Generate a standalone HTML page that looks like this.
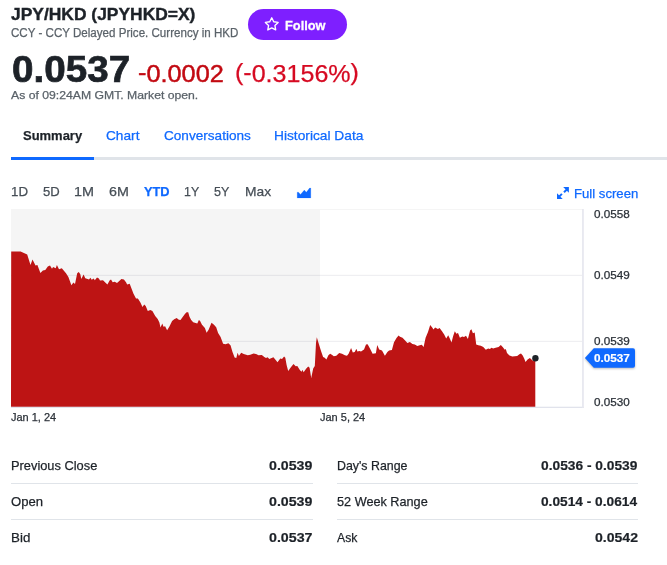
<!DOCTYPE html>
<html lang="en">
<head>
<meta charset="utf-8">
<title>JPY/HKD (JPYHKD=X)</title>
<style>
html,body{margin:0;padding:0;background:#fff;}
body{width:667px;height:565px;position:relative;overflow:hidden;font-family:"Liberation Sans", Arial, sans-serif;}
.t{position:absolute;white-space:nowrap;line-height:1;margin:0;padding:0;transform-origin:0 0;}
.abs{position:absolute;}
.up{position:relative;top:-1.4px;}
#title{left:11.24px;top:6.26px;font-size:17.3px;font-weight:700;color:#1d2228;transform:scaleX(1.0081);-webkit-text-stroke:0.4px #1d2228;}
#sub{left:10.54px;top:27.01px;font-size:12.0px;font-weight:400;color:#5b636a;transform:scaleX(0.9650);-webkit-text-stroke:0.25px #5b636a;}
#follow{left:284.79px;top:19.21px;font-size:13.1px;font-weight:700;color:#ffffff;transform:scaleX(0.9776);-webkit-text-stroke:0.3px #ffffff;}
#price{left:11.55px;top:51.76px;font-size:36.3px;font-weight:700;color:#1d2228;transform:scaleX(1.0644);-webkit-text-stroke:0.7px #1d2228;}
#chg{left:138.32px;top:61.61px;font-size:24.1px;font-weight:400;color:#c20a12;transform:scaleX(1.0500);-webkit-text-stroke:0.45px #c20a12;}
#pct{left:234.88px;top:61.61px;font-size:24.1px;font-weight:400;color:#d60a22;transform:scaleX(1.0398);-webkit-text-stroke:0.25px #d60a22;}
#asof{left:11.42px;top:89.60px;font-size:11.3px;font-weight:400;color:#5b636a;transform:scaleX(1.0806);-webkit-text-stroke:0.25px #5b636a;}
#tab1{left:22.76px;top:129.01px;font-size:13.6px;font-weight:700;color:#1d2228;transform:scaleX(0.9538);-webkit-text-stroke:0.25px #1d2228;}
#tab2{left:106.15px;top:129.01px;font-size:13.6px;font-weight:400;color:#0f69ff;transform:scaleX(1.0058);-webkit-text-stroke:0.25px #0f69ff;}
#tab3{left:163.74px;top:129.01px;font-size:13.6px;font-weight:400;color:#0f69ff;transform:scaleX(0.9991);-webkit-text-stroke:0.25px #0f69ff;}
#tab4{left:274.10px;top:129.01px;font-size:13.6px;font-weight:400;color:#0f69ff;transform:scaleX(1.0111);-webkit-text-stroke:0.25px #0f69ff;}
#r1{left:11.11px;top:185.10px;font-size:13.4px;font-weight:400;color:#464e56;transform:scaleX(0.9928);-webkit-text-stroke:0.25px #464e56;}
#r2{left:42.81px;top:185.10px;font-size:13.4px;font-weight:400;color:#464e56;transform:scaleX(0.9755);-webkit-text-stroke:0.25px #464e56;}
#r3{left:74.15px;top:185.10px;font-size:13.4px;font-weight:400;color:#464e56;transform:scaleX(1.0753);-webkit-text-stroke:0.25px #464e56;}
#r4{left:108.82px;top:185.10px;font-size:13.4px;font-weight:400;color:#464e56;transform:scaleX(1.0656);-webkit-text-stroke:0.25px #464e56;}
#r5{left:144.01px;top:185.10px;font-size:13.4px;font-weight:700;color:#0f69ff;transform:scaleX(0.9560);-webkit-text-stroke:0.25px #0f69ff;}
#r6{left:184.07px;top:185.10px;font-size:13.4px;font-weight:400;color:#464e56;transform:scaleX(0.9266);-webkit-text-stroke:0.25px #464e56;}
#r7{left:214.43px;top:185.10px;font-size:13.4px;font-weight:400;color:#464e56;transform:scaleX(0.9361);-webkit-text-stroke:0.25px #464e56;}
#r8{left:245.10px;top:185.10px;font-size:13.4px;font-weight:400;color:#464e56;transform:scaleX(1.0321);-webkit-text-stroke:0.25px #464e56;}
#fs{left:573.76px;top:186.80px;font-size:13.3px;font-weight:400;color:#0f69ff;transform:scaleX(0.9885);-webkit-text-stroke:0.25px #0f69ff;}
#y1{left:593.88px;top:208.81px;font-size:10.9px;font-weight:400;color:#2b3138;transform:scaleX(1.0746);-webkit-text-stroke:0.25px #2b3138;}
#y2{left:593.88px;top:269.81px;font-size:10.9px;font-weight:400;color:#2b3138;transform:scaleX(1.0760);-webkit-text-stroke:0.25px #2b3138;}
#y3{left:593.88px;top:335.90px;font-size:10.9px;font-weight:400;color:#2b3138;transform:scaleX(1.0760);-webkit-text-stroke:0.25px #2b3138;}
#y4{left:593.88px;top:396.81px;font-size:10.9px;font-weight:400;color:#2b3138;transform:scaleX(1.0730);-webkit-text-stroke:0.25px #2b3138;}
#tag{left:593.85px;top:353.00px;font-size:10.9px;font-weight:700;color:#ffffff;transform:scaleX(1.0766);-webkit-text-stroke:0.2px #ffffff;}
#x1{left:11.16px;top:411.90px;font-size:10.8px;font-weight:400;color:#2b3138;transform:scaleX(1.0161);-webkit-text-stroke:0.25px #2b3138;}
#x2{left:320.07px;top:411.90px;font-size:10.8px;font-weight:400;color:#2b3138;transform:scaleX(1.0184);-webkit-text-stroke:0.25px #2b3138;}
#l1{left:10.78px;top:459.10px;font-size:13.4px;font-weight:400;color:#1d2228;transform:scaleX(0.9580);-webkit-text-stroke:0.25px #1d2228;}
#l2{left:11.21px;top:495.10px;font-size:13.4px;font-weight:400;color:#1d2228;transform:scaleX(0.9774);-webkit-text-stroke:0.25px #1d2228;}
#l3{left:10.73px;top:530.81px;font-size:13.4px;font-weight:400;color:#1d2228;transform:scaleX(0.9974);-webkit-text-stroke:0.25px #1d2228;}
#v1{left:269.24px;top:459.10px;font-size:13.4px;font-weight:700;color:#1d2228;transform:scaleX(1.0588);-webkit-text-stroke:0.2px #1d2228;}
#v2{left:269.24px;top:495.10px;font-size:13.4px;font-weight:700;color:#1d2228;transform:scaleX(1.0588);-webkit-text-stroke:0.2px #1d2228;}
#v3{left:269.25px;top:530.81px;font-size:13.4px;font-weight:700;color:#1d2228;transform:scaleX(1.0612);-webkit-text-stroke:0.2px #1d2228;}
#l4{left:336.51px;top:459.10px;font-size:13.4px;font-weight:400;color:#1d2228;transform:scaleX(0.9237);-webkit-text-stroke:0.25px #1d2228;}
#l5{left:337.01px;top:495.10px;font-size:13.4px;font-weight:400;color:#1d2228;transform:scaleX(0.9473);-webkit-text-stroke:0.25px #1d2228;}
#l6{left:337.10px;top:530.81px;font-size:13.4px;font-weight:400;color:#1d2228;transform:scaleX(0.9127);-webkit-text-stroke:0.25px #1d2228;}
#v4{left:541.26px;top:459.10px;font-size:13.4px;font-weight:700;color:#1d2228;transform:scaleX(1.0279);-webkit-text-stroke:0.2px #1d2228;}
#v5{left:541.26px;top:495.10px;font-size:13.4px;font-weight:700;color:#1d2228;transform:scaleX(1.0233);-webkit-text-stroke:0.2px #1d2228;}
#v6{left:594.76px;top:530.81px;font-size:13.4px;font-weight:700;color:#1d2228;transform:scaleX(1.0498);-webkit-text-stroke:0.2px #1d2228;}

#followbtn{left:247.7px;top:9px;width:99.7px;height:31px;border-radius:16px;background:#7e1fff;}
#tabline{left:11px;top:157px;width:656px;height:3px;background:#e0e4e9;}
#tabactive{left:11px;top:157px;width:83.2px;height:3px;background:#0f69ff;}
.hl{position:absolute;height:1px;background:#e0e4e9;}
</style>
</head>
<body>
<div id="header">
<span class="t" id="title">JPY/HKD (JPYHKD=X)</span>
<span class="t" id="sub">CCY - CCY Delayed Price. Currency in HKD</span>
<div class="abs" id="followbtn"></div>
<svg class="abs" style="left:264.3px;top:16px" width="16" height="16" viewBox="0 0 16 16"><path d="M7.75 1.78 L9.72 5.78 L14.14 6.42 L10.95 9.54 L11.70 13.94 L7.75 11.86 L3.80 13.94 L4.55 9.54 L1.36 6.42 L5.78 5.78 Z" fill="none" stroke="#fff" stroke-width="1.35" stroke-linejoin="round"/></svg>
<span class="t" id="follow">Follow</span>
<span class="t" id="price">0.0537</span>
<span class="t" id="chg"><span class="up">-</span>0.0002</span>
<span class="t" id="pct"><span class="up">(-</span>0.3156%<span class="up">)</span></span>
<span class="t" id="asof">As of 09:24AM GMT. Market open.</span>
</div>
<div id="tabs">
<div class="abs" id="tabline"></div>
<div class="abs" id="tabactive"></div>
<span class="t" id="tab1">Summary</span><span class="t" id="tab2">Chart</span><span class="t" id="tab3">Conversations</span><span class="t" id="tab4">Historical Data</span>
</div>
<div id="ranges">
<span class="t" id="r1">1D</span><span class="t" id="r2">5D</span><span class="t" id="r3">1M</span><span class="t" id="r4">6M</span><span class="t" id="r5">YTD</span><span class="t" id="r6">1Y</span><span class="t" id="r7">5Y</span><span class="t" id="r8">Max</span>
<svg class="abs" style="left:296px;top:186px" width="16" height="14" viewBox="296 186 16 14"><polygon points="297.2,197.9 297.2,192.2 298.5,192.2 300.5,194.4 304.3,190.1 306.3,192.3 309.6,188.1 310.8,188.1 310.8,197.9" fill="#0f69ff" stroke="#0f69ff" stroke-width="0.2" stroke-linejoin="round"/></svg>
<svg class="abs" style="left:556px;top:186px" width="14" height="14" viewBox="556 186 14 14"><g fill="none" stroke="#0f69ff" stroke-width="2"><path d="M564 192.3 L567.2 189.1"/><path d="M561.9 193.9 L558.7 197.1"/></g><path d="M563.2 187 H568.9 V192.7 Z" fill="#0f69ff"/><path d="M557 193.2 V198.9 H562.7 Z" fill="#0f69ff"/></svg>
<span class="t" id="fs">Full screen</span>
</div>
<svg class="abs" id="chart" style="left:0;top:200px" width="667" height="215" viewBox="0 200 667 215">
<rect x="11" y="209" width="309" height="198" fill="#f5f5f5"/>
<rect x="11" y="209" width="572" height="1" fill="#f5f5f5"/>
<rect x="11" y="274.8" width="571" height="1.1" fill="rgba(20,20,50,0.07)"/>
<rect x="11" y="340.8" width="571" height="1.1" fill="rgba(20,20,50,0.07)"/>
<polygon points="11,407 11.2,251.4 20.6,251.4 27.2,254.4 30.5,265.0 32.5,259.4 35.5,265.5 37.4,265.1 40.4,272.9 42.9,270.4 45.3,269.9 47.8,266.6 50.0,265.6 52.0,268.8 53.1,267.1 55.7,268.3 56.9,265.0 59.0,269.2 61.8,268.3 66.0,273.2 68.4,277.0 71.4,285.2 73.4,282.4 75.0,284.1 77.2,273.2 78.8,272.0 80.3,274.2 81.3,279.0 83.6,274.5 85.3,278.3 89.0,279.5 90.4,277.8 91.7,279.8 93.7,278.6 94.8,280.3 97.0,277.5 98.9,278.6 100.0,280.5 103.0,280.2 105.0,282.2 107.4,284.6 109.6,280.5 111.0,279.4 112.7,282.2 114.8,281.7 117.0,283.0 119.0,281.3 121.4,278.9 123.9,279.4 126.0,282.2 127.2,284.6 129.7,283.8 131.3,287.9 133.5,293.7 136.0,298.6 137.9,298.6 140.4,302.4 142.5,306.9 144.2,304.4 145.7,306.1 147.8,311.0 150.3,309.9 152.4,311.0 155.2,316.0 157.7,318.9 159.4,322.6 160.5,327.5 162.3,323.4 163.5,326.7 165.1,326.2 167.1,330.3 169.3,326.7 172.1,320.9 174.2,319.3 176.7,318.1 178.8,319.8 180.5,320.1 182.5,317.3 184.9,314.0 186.6,312.2 188.2,312.2 189.5,316.8 191.2,320.1 193.2,322.2 195.6,323.1 197.3,323.4 198.9,320.1 200.1,320.9 202.0,324.7 204.9,328.0 206.6,332.7 208.6,329.7 211.5,322.8 214.0,324.7 216.2,327.2 218.1,333.0 220.6,337.1 223.1,343.7 225.6,344.2 228.4,343.2 230.5,345.3 232.5,351.9 234.6,357.4 236.3,358.0 237.6,352.8 238.9,356.1 241.2,352.8 243.7,354.1 247.8,355.2 250.3,354.7 253.6,353.6 256.1,353.9 258.5,355.2 261.8,354.9 264.3,356.9 266.0,358.0 267.6,357.2 269.3,359.0 273.4,357.2 275.9,360.2 277.5,362.3 280.3,358.5 282.0,358.9 284.1,356.4 285.3,357.7 286.6,365.1 288.2,370.9 290.7,367.6 293.5,364.0 295.7,366.3 297.3,366.0 300.0,370.2 301.6,371.8 302.5,369.7 303.6,372.3 306.3,368.5 308.2,366.6 309.6,367.7 311.2,378.1 313.2,368.5 314.8,366.1 316.0,343.0 316.8,337.2 319.0,344.6 321.1,351.2 323.1,357.0 324.7,357.8 326.4,359.5 328.4,355.3 330.2,353.7 332.2,354.9 333.8,356.2 336.3,355.8 339.2,352.9 342.0,353.7 344.9,355.3 347.0,355.8 348.6,353.7 351.1,347.9 352.8,352.5 354.7,352.0 356.4,348.8 357.4,351.6 359.4,350.9 361.0,351.6 364.0,349.6 366.0,344.6 367.6,344.3 370.1,348.8 372.6,353.7 375.9,353.2 377.2,345.0 379.2,349.6 382.0,350.4 384.9,355.8 387.4,352.0 389.1,350.4 391.9,349.9 394.0,342.2 396.5,338.0 398.6,335.6 400.0,336.7 402.5,337.8 404.9,340.3 407.4,343.1 409.9,341.9 412.4,344.1 414.8,344.4 417.3,346.1 419.8,345.2 421.8,344.7 423.6,346.9 425.6,337.8 428.0,332.0 430.2,325.0 432.2,327.6 433.5,329.6 435.1,327.6 437.9,329.1 439.6,327.9 442.0,331.2 444.2,334.5 446.2,338.6 448.2,335.3 449.8,338.6 451.5,342.4 453.1,336.2 454.8,331.2 456.4,333.7 458.0,332.9 459.9,337.8 462.3,336.5 464.0,337.0 466.0,335.8 467.9,339.1 470.1,330.4 471.4,329.2 472.9,333.2 474.7,332.5 476.2,344.4 478.3,345.2 480.8,345.7 483.3,346.9 485.8,349.7 488.2,348.5 489.9,349.0 491.5,347.7 493.2,348.5 495.6,347.7 498.6,346.9 500.8,344.9 502.9,347.2 504.8,349.7 505.8,348.9 507.0,353.0 509.5,355.5 512.3,356.6 517.2,355.9 519.4,354.3 521.0,353.5 522.7,355.5 524.3,358.8 525.5,362.1 527.6,359.6 529.9,357.9 532.0,360.1 533.7,361.2 535.3,358.5 535.3,407" fill="#bd1414"/>
<rect x="11" y="406.7" width="572.8" height="1.3" fill="#e1e3ec"/>
<rect x="582.1" y="209" width="1.7" height="199" fill="#e6e7ef"/>
<circle cx="535.4" cy="358.3" r="3.2" fill="#1d2228"/>
<path style="filter:drop-shadow(0 1px 1px rgba(0,0,0,0.28))" d="M584.9 358.1 L593.8 348.3 H633 Q635 348.4 635 350.4 V365.8 Q635 367.8 633 367.8 H593.8 Z" fill="#0f69ff"/>
</svg>
<span class="t" id="y1">0.0558</span><span class="t" id="y2">0.0549</span><span class="t" id="y3">0.0539</span><span class="t" id="y4">0.0530</span><span class="t" id="tag">0.0537</span>
<span class="t" id="x1">Jan 1, 24</span><span class="t" id="x2">Jan 5, 24</span>
<div id="table">
<div class="hl" style="left:11px;top:483px;width:302px"></div>
<div class="hl" style="left:11px;top:519px;width:302px"></div>
<div class="hl" style="left:337px;top:483px;width:301px"></div>
<div class="hl" style="left:337px;top:519px;width:301px"></div>
<span class="t" id="l1">Previous Close</span><span class="t" id="v1">0.0539</span><span class="t" id="l4">Day's Range</span><span class="t" id="v4">0.0536 - 0.0539</span>
<span class="t" id="l2">Open</span><span class="t" id="v2">0.0539</span><span class="t" id="l5">52 Week Range</span><span class="t" id="v5">0.0514 - 0.0614</span>
<span class="t" id="l3">Bid</span><span class="t" id="v3">0.0537</span><span class="t" id="l6">Ask</span><span class="t" id="v6">0.0542</span>
</div>
</body>
</html>
